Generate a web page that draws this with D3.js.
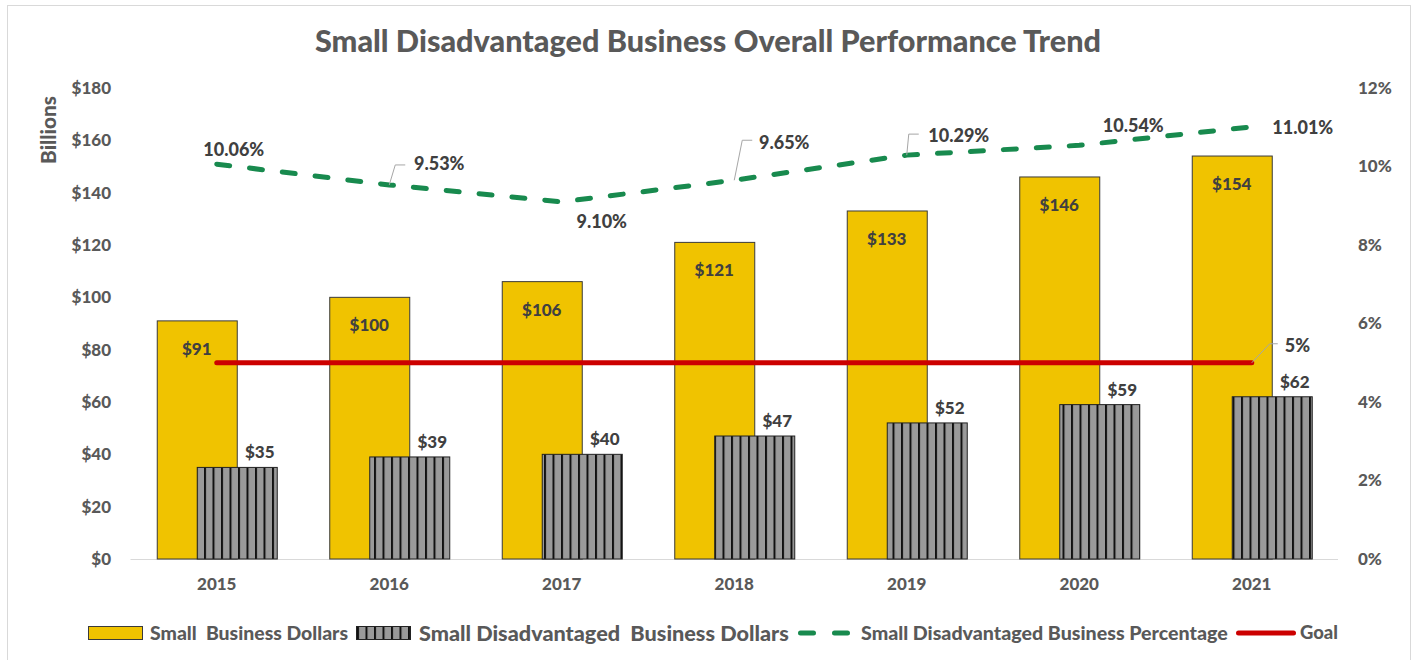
<!DOCTYPE html>
<html>
<head>
<meta charset="utf-8">
<script src="https://cdnjs.cloudflare.com/ajax/libs/d3/7.8.5/d3.min.js"></script>
<style>
  html, body { margin: 0; padding: 0; background: #fff; }
  svg { display: block; }
  text { font-family: Lato, "Source Sans Pro", "Open Sans", sans-serif; font-weight: 900; fill: #595959; }
  .leg { white-space: pre; }
</style>
</head>
<body>
<svg id="chart" width="1416" height="660"></svg>
<script>
const years = ["2015", "2016", "2017", "2018", "2019", "2020", "2021"];
const smallBusiness = [91, 100, 106, 121, 133, 146, 154];
const sdbDollars = [35, 39, 40, 47, 52, 59, 62];
const sdbPercent = [10.06, 9.53, 9.10, 9.65, 10.29, 10.54, 11.01];
const goal = [5, 5, 5, 5, 5, 5, 5];
const leftTicks = [0, 20, 40, 60, 80, 100, 120, 140, 160, 180];
const rightTicks = [0, 2, 4, 6, 8, 10, 12];
const titleText = "Small Disadvantaged Business Overall Performance Trend";
const legendLabels = ["Small  Business Dollars", "Small Disadvantaged  Business Dollars", "Small Disadvantaged Business Percentage", "Goal"];

const svg = d3.select("#chart");
const C = { yellow: "#F0C300", gray: "#9a9a9a", green: "#188A4E", red: "#CC0000", text: "#595959", label: "#404040" };

// fit a text's font size so it spans a target width
function fit(sel, target) {
  const n = sel.node();
  const fs = parseFloat(sel.style("font-size"));
  const w = n.getComputedTextLength();
  if (w > 0) sel.style("font-size", (fs * target / w).toFixed(2) + "px");
  return sel;
}

// border
svg.append("rect").attr("x", 7.5).attr("y", 5.5).attr("width", 1403).attr("height", 660)
  .attr("fill", "none").attr("stroke", "#d9d9d9").attr("stroke-width", 1);

// pattern
const defs = svg.append("defs");
const pat = defs.append("pattern").attr("id", "stripes").attr("patternUnits", "userSpaceOnUse")
  .attr("width", 8.5).attr("height", 10);
pat.append("rect").attr("width", 8.5).attr("height", 10).attr("fill", C.gray);
pat.append("rect").attr("x", 0).attr("width", 2).attr("height", 10).attr("fill", "#111");

const x = d3.scaleBand().domain(years).range([130.5, 1338]).padding(0);
const y = d3.scaleLinear().domain([0, 180]).range([559, 88]);
const y2 = d3.scaleLinear().domain([0, 12]).range([559, 88]);
const cx = d => x(d) + x.bandwidth() / 2;
const barW = 80, off = 20;

// title
fit(svg.append("text").attr("x", 708).attr("y", 52).attr("text-anchor", "middle")
  .style("font-size", "28px").text(titleText), 786);

// axes
const ax = svg.append("g").attr("transform", "translate(111,0)")
  .call(d3.axisLeft(y).tickValues(leftTicks).tickSize(0).tickPadding(0).tickFormat(d => "$" + d));
ax.select(".domain").remove();
ax.selectAll("text").style("font-size", "17px").attr("fill", C.text).style("font-family", null);

const ax2 = svg.append("g").attr("transform", "translate(1358,0)")
  .call(d3.axisRight(y2).tickValues(rightTicks).tickSize(0).tickPadding(0).tickFormat(d => d + "%"));
ax2.select(".domain").remove();
ax2.selectAll("text").style("font-size", "17px").attr("fill", C.text).style("font-family", null);

fit(svg.append("text").attr("transform", "translate(56,130) rotate(-90)").attr("text-anchor", "middle")
  .style("font-size", "18px").text("Billions"), 68);

// baseline
svg.append("line").attr("x1", 130.5).attr("x2", 1338).attr("y1", 559.5).attr("y2", 559.5)
  .attr("stroke", "#d9d9d9").attr("stroke-width", 1);

// x labels
const axX = svg.append("g").attr("transform", "translate(0,578)")
  .call(d3.axisBottom(x).tickSize(0).tickPadding(0));
axX.select(".domain").remove();
axX.selectAll("text").style("font-size", "17px").attr("fill", C.text).attr("dy", "0.71em").style("font-family", null);

// yellow bars
svg.selectAll(".sb").data(years).enter().append("rect").attr("class", "sb")
  .attr("x", (d) => cx(d) - off - barW / 2 + 0.5)
  .attr("y", (d, i) => y(smallBusiness[i]))
  .attr("width", barW).attr("height", (d, i) => y(0) - y(smallBusiness[i]))
  .attr("fill", C.yellow).attr("stroke", "#3a3a3a").attr("stroke-width", 1);

// gray bars
svg.selectAll(".sdb").data(years).enter().append("rect").attr("class", "sdb")
  .attr("x", (d) => cx(d) + off - barW / 2 + 0.5)
  .attr("y", (d, i) => y(sdbDollars[i]))
  .attr("width", barW).attr("height", (d, i) => y(0) - y(sdbDollars[i]))
  .attr("fill", "url(#stripes)").attr("stroke", "#222").attr("stroke-width", 1);

// goal line
svg.append("path").datum(goal)
  .attr("d", d3.line().x((d, i) => cx(years[i])).y(d => y2(d)))
  .attr("fill", "none").attr("stroke", C.red).attr("stroke-width", 5).attr("stroke-linecap", "round");

// percent line
svg.append("path").datum(sdbPercent)
  .attr("d", d3.line().x((d, i) => cx(years[i])).y(d => y2(d)))
  .attr("fill", "none").attr("stroke", C.green).attr("stroke-width", 5)
  .attr("stroke-dasharray", "13,20").attr("stroke-linecap", "round");

// bar labels
svg.selectAll(".sbl").data(years).enter().append("text")
  .attr("x", d => cx(d) - off).attr("y", (d, i) => y(smallBusiness[i]) + 28)
  .attr("dy", "0.35em").attr("text-anchor", "middle").style("font-size", "17px").style("fill", C.label)
  .text((d, i) => "$" + smallBusiness[i]);
svg.selectAll(".sdbl").data(years).enter().append("text")
  .attr("x", d => cx(d) + off + 23).attr("y", (d, i) => y(sdbDollars[i]) - 15)
  .attr("dy", "0.35em").attr("text-anchor", "middle").style("font-size", "17px").style("fill", C.label)
  .text((d, i) => "$" + sdbDollars[i]);

// percent labels
const pctPos = [
  { dx: 17, dy: -14, lead: false },
  { dx: 50, dy: -21, lead: true, ex: 6, ey: -20 },
  { dx: 40, dy: 20, lead: false },
  { dx: 50, dy: -38, lead: true, ex: 8, ey: -40 },
  { dx: 52, dy: -19, lead: true, ex: 2, ey: -21 },
  { dx: 54, dy: -20, lead: false },
  { dx: 51, dy: 1, lead: false }
];
sdbPercent.forEach((v, i) => {
  const px = cx(years[i]), py = y2(v), p = pctPos[i];
  if (p.lead) {
    svg.append("path").attr("d", `M${px},${py} L${px + p.ex},${py + p.ey} L${px + p.ex + 10},${py + p.ey}`)
      .attr("fill", "none").attr("stroke", "#a6a6a6").attr("stroke-width", 1);
  }
  svg.append("text").attr("x", px + p.dx).attr("y", py + p.dy).attr("dy", "0.35em")
    .attr("text-anchor", "middle").style("font-size", "18px").style("fill", C.label).text(v.toFixed(2) + "%");
});
// goal label
{
  const px = cx(years[6]), py = y2(goal[6]);
  svg.append("path").attr("d", `M${px},${py} L${px + 18},${py - 19} L${px + 26},${py - 19}`)
    .attr("fill", "none").attr("stroke", "#a6a6a6").attr("stroke-width", 1);
  svg.append("text").attr("x", px + 33).attr("y", py - 17).attr("dy", "0.35em")
    .style("font-size", "18px").style("fill", C.label).text(goal[6] + "%");
}

// legend
const ly = 633;
const lg = svg.append("g");
lg.append("rect").attr("x", 88.5).attr("y", ly - 6.5).attr("width", 54).attr("height", 13)
  .attr("fill", C.yellow).attr("stroke", "#3a3a3a");
fit(lg.append("text").attr("class", "leg").attr("x", 150).attr("y", ly).attr("dy", "0.35em").style("font-size", "16px").text(legendLabels[0]), 198);
lg.append("rect").attr("x", 356.5).attr("y", ly - 6.5).attr("width", 54).attr("height", 13)
  .attr("fill", "url(#stripes)").attr("stroke", "#222");
fit(lg.append("text").attr("class", "leg").attr("x", 419).attr("y", ly).attr("dy", "0.35em").style("font-size", "19px").text(legendLabels[1]), 370);
lg.append("line").attr("x1", 800.5).attr("x2", 848.5).attr("y1", ly).attr("y2", ly)
  .attr("stroke", C.green).attr("stroke-width", 5).attr("stroke-dasharray", "13,21").attr("stroke-linecap", "round");
fit(lg.append("text").attr("class", "leg").attr("x", 861).attr("y", ly).attr("dy", "0.35em").style("font-size", "16px").text(legendLabels[2]), 367);
lg.append("line").attr("x1", 1238.5).attr("x2", 1293.5).attr("y1", ly).attr("y2", ly)
  .attr("stroke", C.red).attr("stroke-width", 5).attr("stroke-linecap", "round");
fit(lg.append("text").attr("class", "leg").attr("x", 1300).attr("y", ly).attr("dy", "0.35em").style("font-size", "16px").text(legendLabels[3]), 38);
</script>
</body>
</html>
